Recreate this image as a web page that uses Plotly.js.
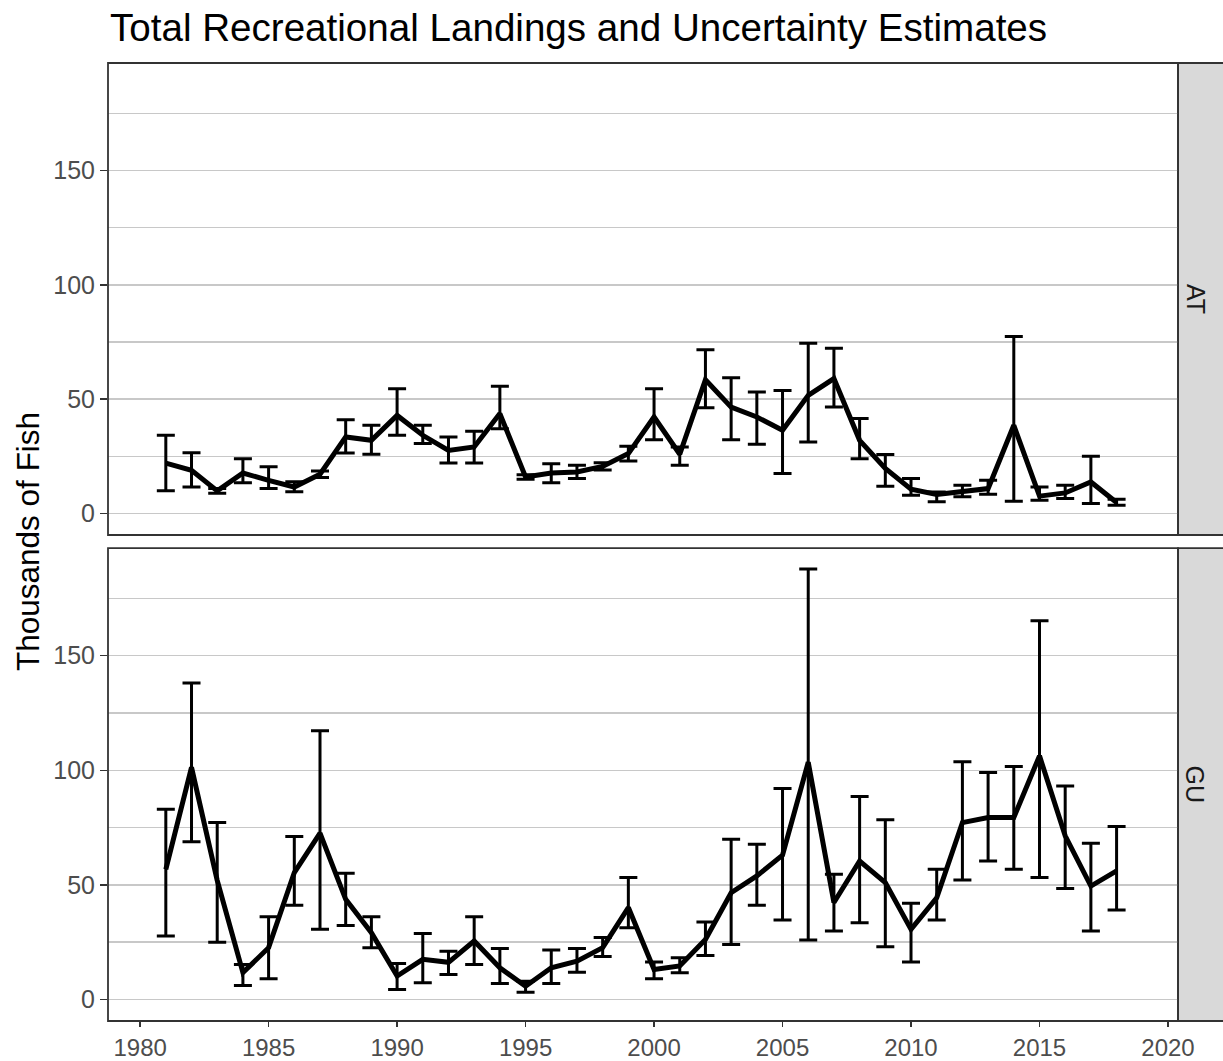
<!DOCTYPE html>
<html>
<head>
<meta charset="utf-8">
<script src="https://cdn.plot.ly/plotly-3.0.1.min.js"></script>
<style>html,body{margin:0;padding:0;background:#fff;}#chart{width:1223px;height:1061px;}</style>
</head>
<body>
<div id="chart"></div>
<script>
const years = [1981,1982,1983,1984,1985,1986,1987,1988,1989,1990,1991,1992,1993,1994,1995,1996,1997,1998,1999,2000,2001,2002,2003,2004,2005,2006,2007,2008,2009,2010,2011,2012,2013,2014,2015,2016,2017,2018];

const atValue = [22,18.9,9.9,17.7,14.5,11.6,17.2,33.5,32,42.9,34.2,27.6,29.1,43.7,16,17.7,18.2,20.6,26.2,42.2,25.9,58.5,46.5,42.2,36.4,51.7,59,32,19.7,10.6,8.3,9.4,10.9,38.6,7.6,9,13.8,4.8];
const atLower = [9.9,11.6,8.9,13.4,10.9,9.5,15.8,26.5,25.9,34.2,30.6,22.1,22.1,37.1,15,13.4,15.3,19,23,32.3,21.1,46.3,32.3,30.3,17.5,31.3,46.6,24,11.9,8,5.1,7.3,8.4,5.4,5.8,6.6,4.4,3.6];
const atUpper = [34.2,26.6,10.9,24,20.4,13.9,18.6,41,38.6,54.6,38.6,33.5,36,55.6,17,21.8,21.1,22.2,29.4,54.6,29.1,71.6,59.4,53.1,53.8,74.5,72.3,41.5,25.8,15.3,9.4,12.4,14.5,77.4,11.6,12.4,25,6.2];

const guValue = [56.8,101.3,52,11.7,22.6,55.4,72.6,43.7,29.1,10.2,17.5,16.2,25.5,13.8,5.8,13.8,16.7,22.6,40.1,13.1,14.6,26.2,46.6,53.9,63,103.5,42.3,60.4,51,30.6,44.4,77.2,79.4,79.4,106.3,71.4,49.5,56.1];
const guLower = [27.7,68.8,25,6.1,9,41.1,30.6,32.3,22.6,4.4,7.3,10.9,15.3,7,3.2,7,11.9,18.7,31.3,9,11.7,19.2,24,41.1,34.7,25.9,29.9,33.5,23,16.3,34.7,52.1,60.4,56.8,53.2,48.4,29.9,39];
const guUpper = [83,138.1,77.2,15.3,36.1,71.1,117.3,55.1,36.1,15.7,28.8,21,36.1,22.2,8,21.6,22.2,27,53.2,16.3,18.2,33.8,69.9,67.7,92.1,187.9,54.6,88.6,78.4,42,56.8,103.7,99.1,101.7,165.3,93.2,68.2,75.5];

const regions = ['AT','GU'];
const xTicks = [1980,1985,1990,1995,2000,2005,2010,2015,2020];
const yTicks = [0,50,100,150];

function errTrace(vals, lo, hi, yaxis) {
  return {
    x: years, y: vals, xaxis: 'x', yaxis: yaxis,
    type: 'scatter', mode: 'lines',
    line: {color: '#000000', width: 5},
    error_y: {
      type: 'data', symmetric: false,
      array: hi.map((h, i) => h - vals[i]),
      arrayminus: lo.map((l, i) => vals[i] - l),
      color: '#000000', thickness: 3, width: 9
    },
    hoverinfo: 'x+y', showlegend: false
  };
}

const data = [
  errTrace(atValue, atLower, atUpper, 'y'),
  errTrace(guValue, guLower, guUpper, 'y2')
];

const topDom = [0.5073, 1];
const botDom = [0, 0.4937];

const yCommon = {
  range: [-9.4, 197],
  tickvals: yTicks, ticktext: yTicks.map(String),
  ticks: 'outside', ticklen: 7, tickwidth: 1.5, tickcolor: '#333333',
  tickfont: {family: 'Liberation Sans, Arial, sans-serif', size: 25, color: '#4D4D4D'},
  showgrid: true, gridcolor: '#C8C8C8', gridwidth: 1.5,
  minor: {dtick: 25, tick0: 0, showgrid: true, gridcolor: '#C8C8C8', gridwidth: 1.5, ticks: ''},
  zeroline: false, showline: false, fixedrange: true
};

const layout = {
  width: 1223, height: 1061,
  margin: {l: 108, r: 45, t: 63, b: 40},
  paper_bgcolor: '#FFFFFF', plot_bgcolor: '#FFFFFF',
  font: {family: 'Liberation Sans, Arial, sans-serif', color: '#000000'},
  title: {
    text: 'Total Recreational Landings and Uncertainty Estimates',
    font: {family: 'Liberation Sans, Arial, sans-serif', size: 38.6, color: '#000000'},
    x: 110 / 1223, xanchor: 'left', xref: 'container',
    y: 1 - 27 / 1061, yanchor: 'middle', yref: 'container'
  },
  xaxis: {
    anchor: 'y2', domain: [0, 1],
    range: [1978.75, 2020.39],
    tickvals: xTicks, ticktext: xTicks.map(String),
    ticks: 'outside', ticklen: 5, tickwidth: 1.5, tickcolor: '#333333',
    tickfont: {family: 'Liberation Sans, Arial, sans-serif', size: 24, color: '#4D4D4D'},
    showgrid: false, zeroline: false, showline: false
  },
  yaxis: Object.assign({}, yCommon, {domain: topDom, anchor: 'x'}),
  yaxis2: Object.assign({}, yCommon, {domain: botDom, anchor: 'x'}),
  shapes: [
    {type: 'rect', xref: 'paper', yref: 'paper', x0: 0, x1: 1, y0: topDom[0], y1: topDom[1], line: {color: '#333333', width: 1.8}, fillcolor: 'rgba(0,0,0,0)', layer: 'above'},
    {type: 'rect', xref: 'paper', yref: 'paper', x0: 0, x1: 1, y0: botDom[0], y1: botDom[1], line: {color: '#333333', width: 1.8}, fillcolor: 'rgba(0,0,0,0)', layer: 'above'},
    {type: 'rect', xref: 'paper', yref: 'paper', x0: 1, x1: 1.06, y0: topDom[0], y1: topDom[1], line: {color: '#333333', width: 1.8}, fillcolor: '#D9D9D9', layer: 'below'},
    {type: 'rect', xref: 'paper', yref: 'paper', x0: 1, x1: 1.06, y0: botDom[0], y1: botDom[1], line: {color: '#333333', width: 1.8}, fillcolor: '#D9D9D9', layer: 'below'}
  ],
  annotations: [
    {text: regions[0], xref: 'paper', yref: 'paper', x: 1.0168, y: (topDom[0] + topDom[1]) / 2, xanchor: 'center', yanchor: 'middle', textangle: 90, showarrow: false, font: {family: 'Liberation Sans, Arial, sans-serif', size: 25, color: '#1A1A1A'}},
    {text: regions[1], xref: 'paper', yref: 'paper', x: 1.0168, y: (botDom[0] + botDom[1]) / 2, xanchor: 'center', yanchor: 'middle', textangle: 90, showarrow: false, font: {family: 'Liberation Sans, Arial, sans-serif', size: 25, color: '#1A1A1A'}},
    {text: 'Thousands of Fish', xref: 'paper', yref: 'paper', x: 0, xshift: -80, y: 0.5, xanchor: 'center', yanchor: 'middle', textangle: -90, showarrow: false, font: {family: 'Liberation Sans, Arial, sans-serif', size: 31.5, color: '#000000'}}
  ]
};

Plotly.newPlot('chart', data, layout, {displayModeBar: false, staticPlot: true});
</script>
</body>
</html>
